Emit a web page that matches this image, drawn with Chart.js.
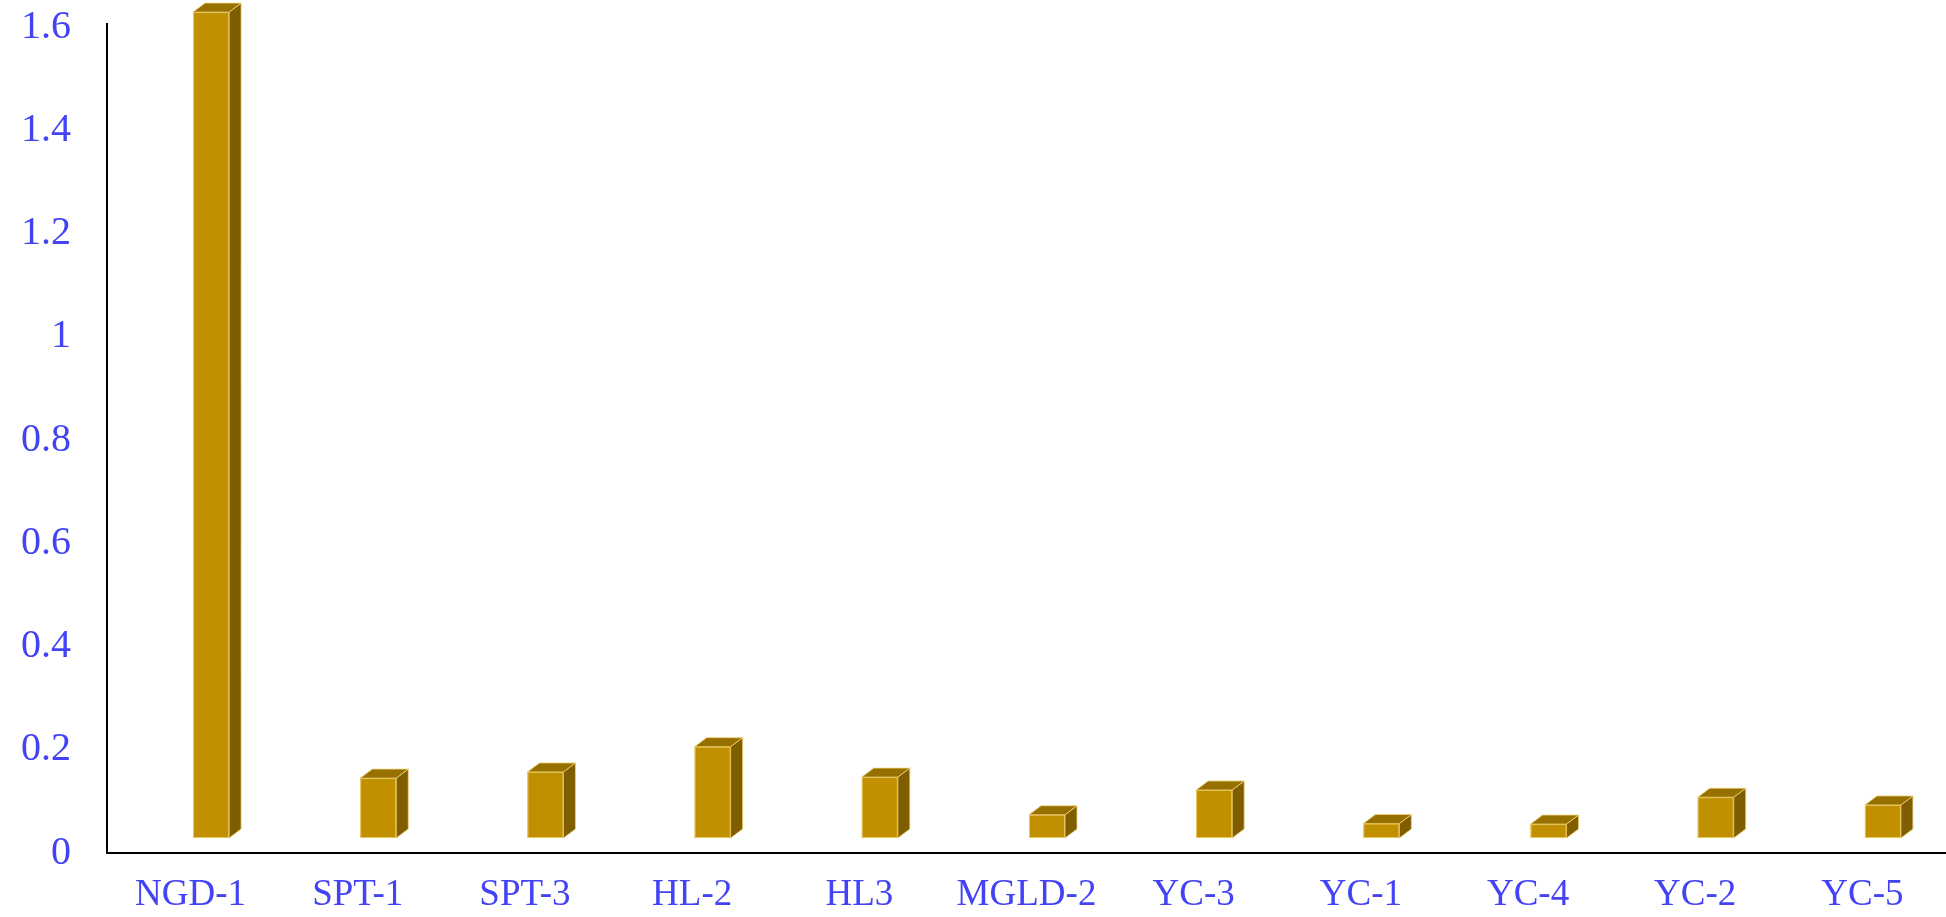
<!DOCTYPE html>
<html>
<head>
<meta charset="utf-8">
<script src="https://cdn.jsdelivr.net/npm/chart.js@4/dist/chart.umd.min.js"></script>
<style>
  html, body { margin: 0; padding: 0; background: #fff; }
  #wrap { width: 1946px; height: 917px; }
</style>
</head>
<body>
<div id="wrap"><canvas id="barChart" width="1946" height="917"></canvas></div>
<script>
// data
const categories = ['NGD-1', 'SPT-1', 'SPT-3', 'HL-2', 'HL3', 'MGLD-2', 'YC-3', 'YC-1', 'YC-4', 'YC-2', 'YC-5'];
const values = [1.60, 0.116, 0.128, 0.177, 0.118, 0.045, 0.093, 0.028, 0.027, 0.079, 0.064];
const yTicks = [0, 0.2, 0.4, 0.6, 0.8, 1, 1.2, 1.4, 1.6];

const labelBlue = '#4343F5';

// draws each bar as a little 3D box (front, side, top)
const boxPlugin = {
    id: 'box3d',
    afterDatasetsDraw(chart) {
        const ctx = chart.ctx;
        const meta = chart.getDatasetMeta(0);
        const lift = 15, shift = 20.5, dx = 12, dy = 9;
        ctx.save();
        ctx.lineWidth = 1;
        ctx.strokeStyle = 'rgba(240, 210, 120, 0.8)';
        meta.data.forEach(bar => {
            const left = bar.x + shift - bar.width / 2;
            const right = left + bar.width;
            const top = bar.y - lift;
            const bottom = bar.base - lift;

            // side face
            ctx.fillStyle = '#7F5E00';
            ctx.beginPath();
            ctx.moveTo(right, bottom);
            ctx.lineTo(right + dx, bottom - dy);
            ctx.lineTo(right + dx, top - dy);
            ctx.lineTo(right, top);
            ctx.closePath();
            ctx.fill();
            ctx.stroke();

            // top face
            ctx.fillStyle = '#967100';
            ctx.beginPath();
            ctx.moveTo(left, top);
            ctx.lineTo(left + dx, top - dy);
            ctx.lineTo(right + dx, top - dy);
            ctx.lineTo(right, top);
            ctx.closePath();
            ctx.fill();
            ctx.stroke();

            // front face
            ctx.fillStyle = '#C09000';
            ctx.fillRect(left, top, bar.width, bottom - top);
            ctx.strokeRect(left + 0.5, top + 0.5, bar.width - 1, bottom - top - 1);
        });
        ctx.restore();
    }
};

const ctx = document.getElementById('barChart').getContext('2d');
const barChart = new Chart(ctx, {
    type: 'bar',
    data: {
        labels: categories,
        datasets: [{
            data: values,
            backgroundColor: 'rgba(0,0,0,0)',
            borderWidth: 0,
            barThickness: 36
        }]
    },
    options: {
        responsive: false,
        animation: false,
        layout: { padding: 0 },
        plugins: {
            legend: { display: false },
            tooltip: { enabled: false }
        },
        scales: {
            x: {
                grid: { display: false, drawTicks: false },
                border: { display: true, color: '#000', width: 2 },
                ticks: {
                    color: labelBlue,
                    font: { family: 'Liberation Serif', size: 37 },
                    padding: 20,
                    maxRotation: 0,
                    autoSkip: false
                },
                afterFit: s => { s.height = 64; }
            },
            y: {
                min: 0,
                max: 1.606,
                grid: { display: false, drawTicks: false },
                border: { display: true, color: '#000', width: 2 },
                ticks: {
                    color: labelBlue,
                    font: { family: 'Liberation Serif', size: 40 },
                    padding: 36,
                    callback: v => String(+v.toFixed(1))
                },
                afterBuildTicks: s => { s.ticks = yTicks.map(v => ({ value: v })); },
                afterFit: s => {
                    s.width = 107;
                    // tick padding is horizontal only here, keep the plot top at 24px
                    s.paddingTop = 24;
                    s.paddingBottom = 24;
                }
            }
        }
    },
    plugins: [boxPlugin]
});
</script>
</body>
</html>
